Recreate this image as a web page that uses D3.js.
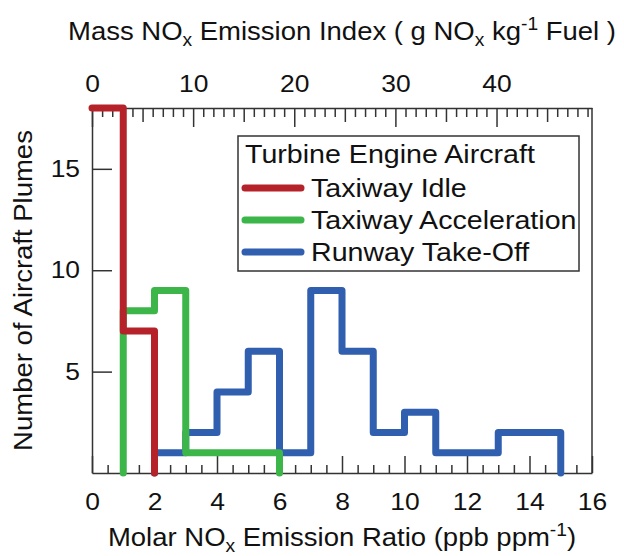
<!DOCTYPE html>
<meta charset="UTF-8">
<style>
    body { margin: 0; background: #fff; }
    text { font-family: "Liberation Sans", Arial, sans-serif; fill: #111; }
    .domain, .tick line, .frame { stroke: #333; stroke-width: 1.5px; fill: none; }
    .step { fill: none; stroke-width: 7px; stroke-linecap: round; stroke-linejoin: round; }
</style>
<body>
<script src="https://d3js.org/d3.v7.min.js"></script>
<script>

// histogram bins are 1 ppb/ppm wide, listed by left edge
var idleBins = [0, 1],
    idleCounts = [18, 7];
var accelBins = [1, 2, 3, 4, 5],
    accelCounts = [8, 9, 1, 1, 1];
var takeoffBins = [2, 3, 4, 5, 6, 7, 8, 9, 10, 11, 12, 13, 14],
    takeoffCounts = [1, 2, 4, 6, 1, 9, 6, 2, 3, 1, 1, 2, 2];

var seriesNames = ["Taxiway Idle", "Taxiway Acceleration", "Runway Take-Off"];
var seriesColors = ["#b5222a", "#3db649", "#2f5fae"];
var legendTitle = "Turbine Engine Aircraft";

var bottomTicks = [0, 2, 4, 6, 8, 10, 12, 14, 16];
var topTicks = [0, 10, 20, 30, 40];
var leftTicks = [5, 10, 15];
var emissionFactor = 3.09;   // g NOx / kg fuel per ppb/ppm

var margin = {top: 108, right: 32, bottom: 83, left: 92},
    width = 624 - margin.left - margin.right,
    height = 556 - margin.top - margin.bottom;

var svg = d3.select("body").append("svg")
    .attr("width", 624)
    .attr("height", 556)
  .append("g")
    .attr("transform", "translate(" + margin.left + "," + margin.top + ")");

var x = d3.scaleLinear().domain([0, 16]).range([0, width]);
var xTop = d3.scaleLinear().domain([0, 16 * emissionFactor]).range([0, width]);
var y = d3.scaleLinear().domain([0, 18]).range([height, 0]);

var sx = 1.1; // glyphs in the original are a bit wider than Arial

function styleTicks(g, size) {
  g.selectAll(".tick text")
    .style("font-size", size + "px")
    .attr("transform", "scale(" + sx + ",1)");
}

// ---- bottom axis
var bottomMinor = d3.range(0.5, 16, 0.5).filter(function(v) { return v % 2 != 0; });
svg.append("g")
    .attr("transform", "translate(0," + height + ")")
    .call(d3.axisBottom(x).tickValues(bottomMinor).tickSize(-8).tickFormat(""))
    .call(function(g) { g.select(".domain").remove(); });
svg.append("g")
    .attr("transform", "translate(0," + height + ")")
    .call(d3.axisBottom(x).tickValues(bottomTicks).tickSize(-17).tickSizeOuter(0).tickPadding(20))
    .call(function(g) { styleTicks(g, 24); });

// ---- top axis
var topMax = 16 * emissionFactor;
var topMinor = d3.range(1, topMax, 1).filter(function(v) { return v % 5 != 0; });
var topMid = d3.range(5, topMax, 10);
svg.append("g")
    .call(d3.axisTop(xTop).tickValues(topMinor).tickSize(-9).tickFormat(""))
    .call(function(g) { g.select(".domain").remove(); });
svg.append("g")
    .call(d3.axisTop(xTop).tickValues(topMid).tickSize(-14).tickFormat(""))
    .call(function(g) { g.select(".domain").remove(); });
svg.append("g")
    .call(d3.axisTop(xTop).tickValues(topTicks).tickSize(-19).tickSizeOuter(0).tickPadding(16))
    .call(function(g) { styleTicks(g, 24); });

// ---- left axis
svg.append("g")
    .call(d3.axisLeft(y).tickValues(leftTicks).tickSize(-20).tickSizeOuter(0).tickPadding(12))
    .call(function(g) {
      g.selectAll(".tick text")
        .style("font-size", "24px")
        .attr("transform", "translate(-12,0) scale(" + sx + ",1) translate(12,0)");
    });

// right side of frame
svg.append("line")
    .attr("class", "frame")
    .attr("x1", width).attr("x2", width)
    .attr("y1", 0).attr("y2", height);

// ---- histogram steps
function stepPoints(bins, counts) {
  var pts = [];
  if (bins[0] > 0) pts.push([bins[0], 0]);
  bins.forEach(function(b, i) { pts.push([b, counts[i]]); });
  pts.push([bins[bins.length - 1] + 1, 0]);
  return pts;
}

var line = d3.line()
    .x(function(d) { return x(d[0]); })
    .y(function(d) { return y(d[1]); })
    .curve(d3.curveStepAfter);

var series = [
  {bins: idleBins, counts: idleCounts, color: seriesColors[0]},
  {bins: accelBins, counts: accelCounts, color: seriesColors[1]},
  {bins: takeoffBins, counts: takeoffCounts, color: seriesColors[2]}
];

// draw take-off first, idle last (on top)
series.slice().reverse().forEach(function(s) {
  svg.append("path")
      .attr("class", "step")
      .attr("d", line(stepPoints(s.bins, s.counts)))
      .style("stroke", s.color);
});

// ---- rich text helper (sub / superscripts)
function richText(parent, parts, size) {
  var t = parent.append("text").style("font-size", size + "px");
  var shift = 0;
  parts.forEach(function(p) {
    var target = p.sub ? size * 0.22 : p.sup ? -size * 0.42 : 0;
    t.append("tspan")
        .attr("dy", target - shift)
        .style("font-size", (p.sub || p.sup ? size * 0.7 : size) + "px")
        .text(p.t);
    shift = target;
  });
  return t;
}

// top title
var topTitle = svg.append("g")
    .attr("transform", "translate(" + (width / 2) + ",-68) scale(" + sx + ",1)");
richText(topTitle, [
  {t: "Mass NO"}, {t: "x", sub: true}, {t: " Emission Index ( g NO"}, {t: "x", sub: true},
  {t: " kg"}, {t: "-1", sup: true}, {t: " Fuel )"}
], 25).attr("text-anchor", "middle");

// bottom title
var bottomTitle = svg.append("g")
    .attr("transform", "translate(" + (width / 2) + "," + (height + 73) + ") scale(" + sx + ",1)");
richText(bottomTitle, [
  {t: "Molar NO"}, {t: "x", sub: true}, {t: " Emission Ratio (ppb ppm"}, {t: "-1", sup: true}, {t: ")"}
], 25).attr("text-anchor", "middle");

// y title
svg.append("g")
    .attr("transform", "translate(-60," + (height / 2) + ") rotate(-90) scale(" + sx + ",1)")
  .append("text")
    .attr("text-anchor", "middle")
    .style("font-size", "25px")
    .text("Number of Aircraft Plumes");

// ---- legend
var legend = svg.append("g").attr("transform", "translate(146,28)");
legend.append("rect")
    .attr("width", 341).attr("height", 135)
    .style("fill", "#fff").style("stroke", "#333").style("stroke-width", 1.5);
legend.append("g")
    .attr("transform", "translate(7,27) scale(" + sx + ",1)")
  .append("text")
    .style("font-size", "26px")
    .text(legendTitle);

seriesNames.forEach(function(name, i) {
  var row = legend.append("g").attr("transform", "translate(0," + (52 + i * 32) + ")");
  row.append("line")
      .attr("class", "step")
      .attr("x1", 7).attr("x2", 63)
      .style("stroke", seriesColors[i]);
  row.append("g")
      .attr("transform", "translate(73,9) scale(" + sx + ",1)")
    .append("text")
      .style("font-size", "26px")
      .text(name);
});

</script>
</body>
